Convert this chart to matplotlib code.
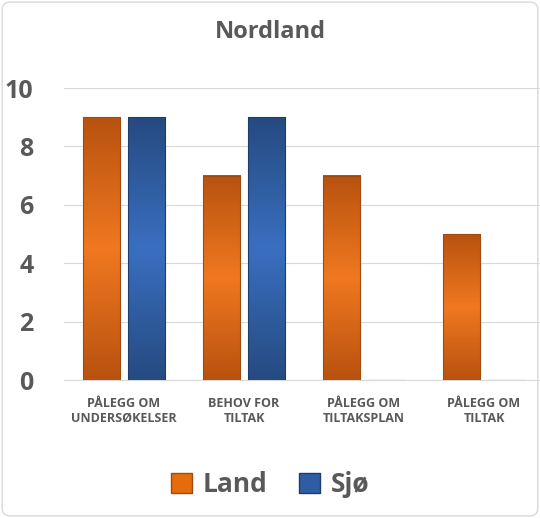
import matplotlib
matplotlib.use("Agg")
import matplotlib.pyplot as plt
import numpy as np
from matplotlib.patches import FancyBboxPatch, Patch
from matplotlib.colors import LinearSegmentedColormap

categories = ["PÅLEGG OM\nUNDERSØKELSER", "BEHOV FOR\nTILTAK", "PÅLEGG OM\nTILTAKSPLAN", "PÅLEGG OM\nTILTAK"]
land = [9, 7, 7, 5]
sjo = [9, 9, 0, 0]
yticks = [0, 2, 4, 6, 8, 10]

plt.rcParams['font.family'] = ['Open Sans', 'DejaVu Sans']
fig = plt.figure(figsize=(5.4, 5.18), dpi=100)
fig.patches.append(FancyBboxPatch((0.004, 0.004), 0.992, 0.992, boxstyle="round,pad=0,rounding_size=0.015",
                                  transform=fig.transFigure, fill=False, ec="#d9d9d9", lw=1))
ax = fig.add_axes([64/540, 1-380/518, 480/540, 292/518])
x = np.arange(len(categories))
w = 0.31
cm_land = LinearSegmentedColormap.from_list("l", ["#b8520f", "#f07820", "#b8520f"])
cm_sjo = LinearSegmentedColormap.from_list("s", ["#254a80", "#3a6fc0", "#254a80"])
grad = np.linspace(0, 1, 256).reshape(-1, 1)
for vals, off, cm, col, ec in [(land, -0.19, cm_land, "#e46c0a", "#a04a10"), (sjo, 0.19, cm_sjo, "#2f5da4", "#1f3d6c")]:
    bars = ax.bar(x + off, vals, w, color=col, zorder=2)
    for b in bars:
        if b.get_height() > 0:
            bx, by = b.get_x(), b.get_y()
            ax.imshow(grad, cmap=cm, aspect="auto", extent=(bx, bx + b.get_width(), by, by + b.get_height()),
                      zorder=3, origin="lower")
    ax.bar(x + off, vals, w, fill=False, edgecolor=ec, lw=0.8, zorder=4)
ax.set_xlim(-0.5, 3.5)
ax.set_ylim(0, 10)
ax.set_yticks(yticks)
ax.set_yticklabels([str(t) for t in yticks], fontsize=18, fontweight="bold", color="#595959")
ax.set_xticks(x)
ax.set_xticklabels(categories, fontsize=9, fontweight="bold", color="#595959")
ax.tick_params(length=0, pad=12)
ax.tick_params(axis="y", pad=22)
ax.grid(axis="y", color="#d9d9d9", lw=0.8, zorder=0)
for s in ["top", "right", "left"]:
    ax.spines[s].set_visible(False)
ax.spines["bottom"].set_color("#d9d9d9")
fig.text(0.5, 1-32/518, "Nordland", ha="center", va="center", fontsize=17, fontweight="bold", color="#595959")
fig.legend(handles=[Patch(fc="#e46c0a", ec="#a04a10", label="Land"), Patch(fc="#2f5da4", ec="#1f3d6c", label="Sjø")],
           loc="center", bbox_to_anchor=(0.5, 1-485/518), ncol=2, frameon=False,
           prop={"size": 19, "weight": "bold"}, labelcolor="#595959",
           handlelength=0.8, handleheight=0.8, columnspacing=1.2, handletextpad=0.4)
fig.savefig("out.png", dpi=100)
